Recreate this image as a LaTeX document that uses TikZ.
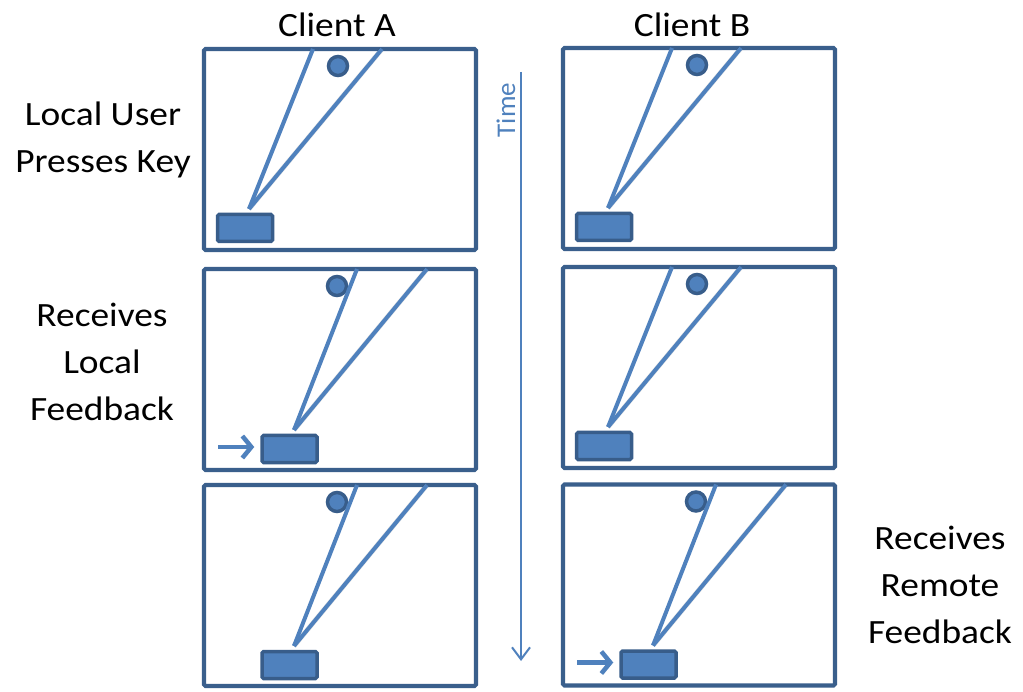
\documentclass[tikz,border=0pt]{standalone}
\usepackage{fontspec}
\setmainfont{Carlito}[FakeStretch=1.1]
\newfontfamily\plainfont{Carlito}
\usetikzlibrary{arrows.meta}
\definecolor{framec}{HTML}{3A5F8C}
\definecolor{beamc}{HTML}{4F81BD}
\definecolor{keyedge}{HTML}{385D8A}
\tikzset{
  panelbox/.style={draw=framec, line width=4.2pt, rectangle, minimum width=272pt, minimum height=201pt, inner sep=0pt, rounded corners=1.5pt, fill=white},
  beam/.style={draw=beamc, line width=4pt},
  beamshadow/.style={draw=black, opacity=0.10, line width=5pt},
  keybox/.style={draw=keyedge, fill=beamc, line width=3.5pt, minimum width=55pt, minimum height=27pt, inner sep=0pt, rounded corners=1.5pt},
  knob/.style={circle, draw=keyedge, fill=beamc, line width=3.5pt, minimum size=19pt, inner sep=0pt},
  lbl/.style={font=\fontsize{34}{47}\selectfont, align=center, text=black, inner sep=0pt},
  feedarrow/.style={draw=beamc, line width=4.5pt, -{Straight Barb[length=9pt,width=22pt,line width=4.5pt]}},
  timeline/.style={draw=beamc, line width=2pt, -{Straight Barb[length=12pt,width=18pt]}},
}
% panel with the key at its start position
\newcommand\startpanel[3]{%
  \node[panelbox] (#1) at (#2,#3) {};
  \begin{scope}[shift={(#2,#3)}]
    \coordinate (#1-l) at (-27,-100.5);
    \coordinate (#1-r) at (42,-100.5);
    \coordinate (#1-apex) at (-91,59.5);
    \node[knob] (#1-dot) at (-2,-83.5) {};
    \begin{scope}[shift={(1.5,1.5)}]
      \draw[beamshadow] (#1-r) -- (#1-apex);
    \end{scope}
    \draw[beam] (#1-l) -- (#1-apex);
    \draw[beam] (#1-r) -- (#1-apex);
    \node[keybox] (#1-key) at (-95,78.5) {};
  \end{scope}
}
% panel with the key at its moved position
\newcommand\movedpanel[3]{%
  \node[panelbox] (#1) at (#2,#3) {};
  \begin{scope}[shift={(#2,#3)}]
    \coordinate (#1-l) at (17,-100.5);
    \coordinate (#1-r) at (87,-100.5);
    \coordinate (#1-apex) at (-46,60.5);
    \coordinate (#1-fs) at (-122,77.5);
    \node[knob] (#1-dot) at (-3,-83.5) {};
    \begin{scope}[shift={(1.5,1.5)}]
      \draw[beamshadow] (#1-r) -- (#1-apex);
    \end{scope}
    \draw[beam] (#1-l) -- (#1-apex);
    \draw[beam] (#1-r) -- (#1-apex);
    \node[keybox] (#1-key) at (-50.5,79.5) {};
  \end{scope}
}
\begin{document}
\begin{tikzpicture}[x=1pt,y=-1pt]
  \useasboundingbox (0,0) rectangle (1023,692);
  \fill[white] (0,0) rectangle (1023,692);

  \node[lbl] (clientA) at (337,25) {Client A};
  \node[lbl] (clientB) at (692,25) {Client B};
  \node[lbl] (lup) at (103,140) {Local User\\Presses Key};
  \node[lbl] (rlf) at (102,362) {Receives\\Local\\Feedback};
  \node[lbl] (rrf) at (940,585) {Receives\\Remote\\Feedback};

  \startpanel{A1}{340}{149.5}
  \movedpanel{A2}{340}{369.5}
  \movedpanel{A3}{340}{585.5}
  \startpanel{B1}{699}{148.5}
  \startpanel{B2}{699}{367.5}
  \movedpanel{B3}{699}{585}

  \draw[feedarrow, shorten >=6pt] (A2-fs) -- (A2-fs -| A2-key.west);
  \draw[feedarrow, shorten >=6pt] (B3-fs) -- (B3-fs -| B3-key.west);

  \coordinate (t0) at (521,72);
  \coordinate (t1) at (521,661);
  \draw[timeline] (t0) -- (t1);
  \node[rotate=90, text=beamc, font=\plainfont\fontsize{27}{30}\selectfont, inner sep=0pt] (time) at (506,110) {Time};
\end{tikzpicture}
\end{document}
